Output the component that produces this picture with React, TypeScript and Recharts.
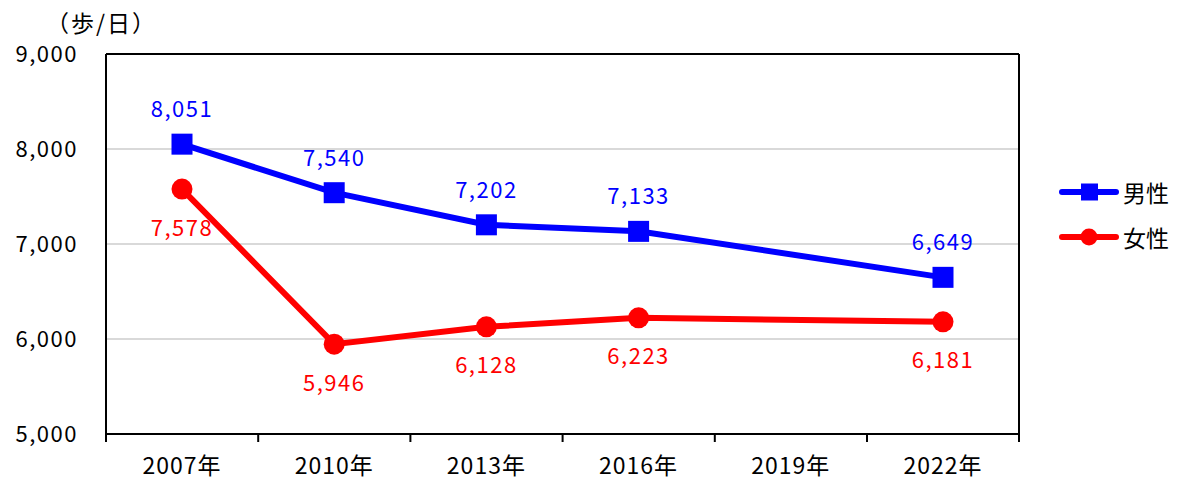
import {
   CartesianGrid,
   LabelList,
   Line,
   LineChart,
   ReferenceLine,
   XAxis,
   YAxis,
} from "recharts";

const years = ["2007年", "2010年", "2013年", "2016年", "2019年", "2022年"];
const male = [8051, 7540, 7202, 7133, null, 6649];
const female = [7578, 5946, 6128, 6223, null, 6181];
const yTicks = [5000, 6000, 7000, 8000, 9000];

const FONT = "'Noto Sans CJK JP', sans-serif";
const BLUE = "#0000FF";
const RED = "#FF0000";
const HALF_BAND = 76;
const TICK_MARGIN = 24;

const data = years.map((year, i) => ({
   year,
   male: male[i],
   female: female[i],
}));

const fmt = (v: number | null | undefined) =>
   v === null || v === undefined ? "" : v.toLocaleString("en-US");

const SquareDot = (props: any) => {
   const { cx, cy, index } = props;
   if (cx == null || cy == null) return <g key={`sq-${index}`} />;
   return (
      <rect
         key={`sq-${index}`}
         x={cx - 10.5}
         y={cy - 10.5}
         width={21}
         height={21}
         fill={BLUE}
      />
   );
};

// year label plus the tick marks that sit between categories
const YearTick = (props: any) => {
   const { x, y, payload, index } = props;
   const axisY = y - TICK_MARGIN;
   const isLast = index === years.length - 1;
   return (
      <g>
         <line
            x1={x - HALF_BAND}
            x2={x - HALF_BAND}
            y1={axisY}
            y2={axisY + 8}
            stroke="#000"
            strokeWidth={2}
         />
         {isLast && (
            <line
               x1={x + HALF_BAND}
               x2={x + HALF_BAND}
               y1={axisY}
               y2={axisY + 8}
               stroke="#000"
               strokeWidth={2}
            />
         )}
         <text
            x={x}
            y={y}
            dy="0.71em"
            textAnchor="middle"
            fontSize={23}
            fontFamily={FONT}
            letterSpacing={1}
            fill="#000"
         >
            {payload.value}
         </text>
      </g>
   );
};

const legendItems = [
   { name: "男性", color: BLUE, shape: "square" },
   { name: "女性", color: RED, shape: "circle" },
];

const LegendBox = () => (
   <div style={{ display: "flex", flexDirection: "column", gap: 11 }}>
      {legendItems.map((it) => (
         <div
            key={it.name}
            style={{ display: "flex", alignItems: "center", height: 34 }}
         >
            <svg width={62} height={20} style={{ display: "block" }}>
               <line
                  x1={4}
                  y1={10}
                  x2={58}
                  y2={10}
                  stroke={it.color}
                  strokeWidth={6}
                  strokeLinecap="round"
               />
               {it.shape === "square" ? (
                  <rect x={23} y={1.5} width={17} height={17} fill={it.color} />
               ) : (
                  <circle cx={31} cy={10} r={8.5} fill={it.color} />
               )}
            </svg>
            <span
               style={{
                  marginLeft: 3,
                  fontSize: 23,
                  lineHeight: "34px",
                  color: "#000",
                  whiteSpace: "nowrap",
               }}
            >
               {it.name}
            </span>
         </div>
      ))}
   </div>
);

export default function App() {
   return (
      <div
         style={{
            position: "absolute",
            left: 0,
            top: 0,
            width: 1179,
            height: 484,
            background: "#fff",
            fontFamily: FONT,
         }}
      >
         <div
            style={{
               position: "absolute",
               left: 46,
               top: 5,
               fontSize: 23,
               letterSpacing: 2,
               color: "#000",
            }}
         >
            （歩/日）
         </div>
         <LineChart
            width={1179}
            height={484}
            data={data}
            margin={{ top: 54, right: 159, bottom: 20, left: 0 }}
         >
            <CartesianGrid
               vertical={false}
               stroke="#D9D9D9"
               strokeWidth={2}
            />
            <XAxis
               dataKey="year"
               padding={{ left: HALF_BAND, right: HALF_BAND }}
               height={30}
               axisLine={{ stroke: "#000", strokeWidth: 2 }}
               tickLine={false}
               tickSize={0}
               tickMargin={TICK_MARGIN}
               interval={0}
               tick={<YearTick />}
            />
            <YAxis
               domain={[5000, 9000]}
               ticks={yTicks}
               width={106}
               tickSize={0}
               tickMargin={28}
               tickLine={false}
               axisLine={{ stroke: "#000", strokeWidth: 2 }}
               tickFormatter={(v: number) => fmt(v)}
               tick={{
                  fill: "#000",
                  fontSize: 22,
                  fontFamily: FONT,
                  letterSpacing: 1.5,
               }}
            />
            <YAxis
               yAxisId="r"
               orientation="right"
               domain={[5000, 9000]}
               ticks={yTicks}
               width={1}
               tick={false}
               tickLine={false}
               axisLine={{ stroke: "#000", strokeWidth: 2 }}
            />
            <ReferenceLine y={9000} stroke="#000" strokeWidth={2} />
            {/* invisible series so the right frame axis gets drawn */}
            <Line
               yAxisId="r"
               dataKey="male"
               stroke="none"
               strokeWidth={0}
               dot={false}
               activeDot={false}
               legendType="none"
               isAnimationActive={false}
            />
            <Line
               type="linear"
               dataKey="male"
               name="男性"
               stroke={BLUE}
               strokeWidth={6}
               dot={SquareDot}
               activeDot={false}
               connectNulls
               isAnimationActive={false}
            >
               <LabelList
                  dataKey="male"
                  position="top"
                  offset={27}
                  formatter={fmt}
                  style={{
                     fill: BLUE,
                     fontSize: 22,
                     fontFamily: FONT,
                     letterSpacing: 1.5,
                  }}
               />
            </Line>
            <Line
               type="linear"
               dataKey="female"
               name="女性"
               stroke={RED}
               strokeWidth={6}
               dot={{ r: 10.5, fill: RED, stroke: "none" }}
               activeDot={false}
               connectNulls
               isAnimationActive={false}
            >
               <LabelList
                  dataKey="female"
                  position="bottom"
                  offset={31}
                  formatter={fmt}
                  style={{
                     fill: RED,
                     fontSize: 22,
                     fontFamily: FONT,
                     letterSpacing: 1.5,
                  }}
               />
            </Line>
         </LineChart>
         <div style={{ position: "absolute", left: 1058, top: 175 }}>
            <LegendBox />
         </div>
      </div>
   );
}
